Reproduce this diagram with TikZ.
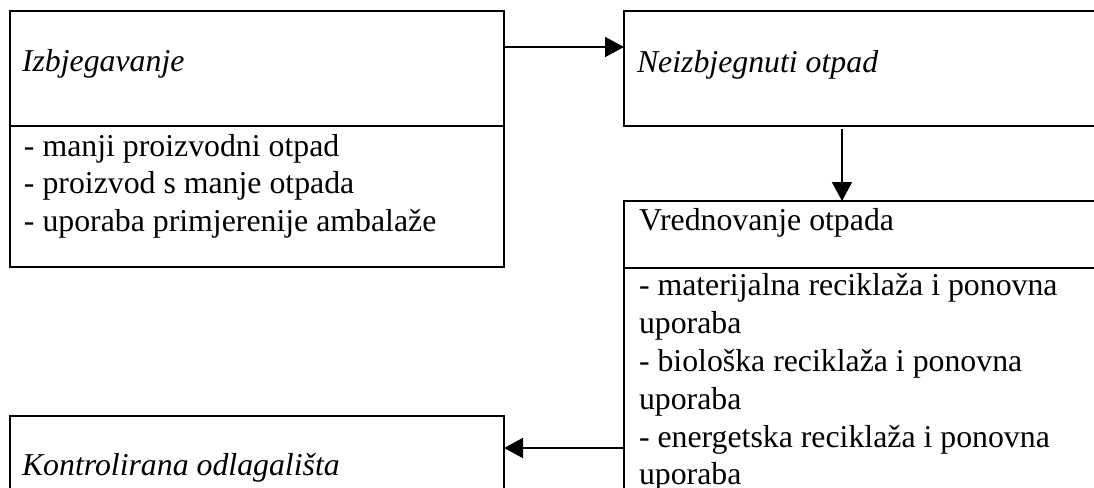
\documentclass[tikz,border=0pt]{standalone}
\usepackage{fontspec}
\setmainfont{Liberation Serif}
\usetikzlibrary{arrows.meta}
\tikzset{
  box/.style={draw, line width=1.4pt, rectangle, anchor=north west, outer sep=0pt, inner sep=0pt},
  txt/.style={anchor=base west, inner sep=0pt, outer sep=0pt, font=\fontsize{15.9pt}{19pt}\selectfont},
  arr/.style={line width=0.9pt, -{Triangle[length=9.5pt,width=10pt]}}
}
\begin{document}
\begin{tikzpicture}[x=0.5pt,y=-0.5pt]
\useasboundingbox (0,0) rectangle (1094,488);
\clip (0,0) rectangle (1094,488);
% boxes
\node[box, minimum width=247pt, minimum height=57.5pt] (b1a) at (10,11) {};
\node[box, minimum width=247pt, minimum height=70.5pt] (b1b) at (10,126) {};
\node[box, minimum width=243pt, minimum height=57.5pt] (b2) at (624,11) {};
\node[box, minimum width=243pt, minimum height=33.5pt] (b3a) at (624,201) {};
\node[box, minimum width=243pt, minimum height=116pt] (b3b) at (624,268) {};
\node[box, minimum width=247pt, minimum height=42pt] (b4) at (10,416) {};
% texts
\node[txt] (t1) at (22,71) {\itshape Izbjegavanje};
\node[txt] (t1a) at (24,156) {- manji proizvodni otpad};
\node[txt] (t1b) at (24,193.5) {- proizvod s manje otpada};
\node[txt] (t1c) at (24,231) {- uporaba primjerenije ambalaže};
\node[txt] (t2) at (637,72) {\itshape Neizbjegnuti otpad};
\node[txt] (t3) at (639,230) {Vrednovanje otpada};
\node[txt] (t3a) at (639,295) {- materijalna reciklaža i ponovna};
\node[txt] (t3b) at (639,333) {uporaba};
\node[txt] (t3c) at (639,371) {- biološka reciklaža i ponovna};
\node[txt] (t3d) at (639,409) {uporaba};
\node[txt] (t3e) at (639,447) {- energetska reciklaža i ponovna};
\node[txt] (t3f) at (639,484) {uporaba};
\node[txt] (t4) at (22,475) {\itshape Kontrolirana odlagališta};
% connectors
\draw[arr] ([yshift=-18pt]b1a.north east) -- ([yshift=-18pt]b2.north west);
\draw[arr] ([xshift=109pt,yshift=-1.5pt]b2.south west) -- ([xshift=109pt]b3a.north west);
\draw[arr] ([yshift=-90pt]b3b.north west) -- ([yshift=-16pt]b4.north east);
\end{tikzpicture}
\end{document}
